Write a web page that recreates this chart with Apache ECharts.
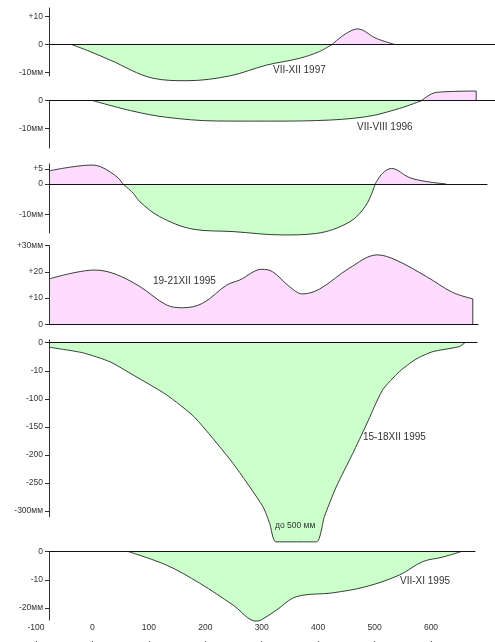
<!DOCTYPE html>
<html><head><meta charset="utf-8">
<script src="https://cdn.jsdelivr.net/npm/echarts@6/dist/echarts.min.js"></script>
<style>html,body{margin:0;padding:0;background:#fff}#c{width:495px;height:642px}</style>
</head><body><div id="c"></div>
<script>
// shared bottom axis
const xTicks = [-100, 0, 100, 200, 300, 400, 500, 600];

// Panel 1: VII-XII 1997 (mm)
const p1X = [-38, -4, 31, 107, 167, 243, 309, 367, 402, 425, 470, 503, 535];
const p1Y = [0, -2.6, -5.6, -12.1, -13, -11.3, -7.4, -5, -2.6, 0, 5.5, 2.1, 0];
const p1Ticks = [10, 0, -10];
const p1Labels = ['+10', '0', '-10мм'];

// Panel 2: VII-VIII 1996
const p2X = [1, 72, 131, 220, 308, 397, 485, 544, 583, 609, 680, 680];
const p2Y = [0, -3.8, -6.0, -7.35, -7.4, -7.2, -5.8, -2.8, 0, 3.0, 3.5, 0];
const p2Ticks = [0, -10];
const p2Labels = ['0', '-10мм'];

// Panel 3
const p3X = [-77, -1, 14, 31, 46, 54, 72, 84, 119, 178, 249, 337, 397, 456, 485, 501, 514, 530, 562, 592, 627];
const p3Y = [4.3, 6.2, 5.7, 4.0, 1.9, 0, -3.0, -5.8, -10.7, -14.8, -15.6, -16.7, -16.2, -12.4, -6.9, 0, 3.5, 5.1, 2.1, 0.8, 0];
const p3Ticks = [5, 0, -10];
const p3Labels = ['+5', '0', '-10мм'];

// Panel 4: 19-21XII 1995
const p4X = [-77, 4, 40, 84, 131, 160, 195, 238, 261, 300, 319, 349, 372, 402, 455, 505, 538, 592, 638, 674, 674];
const p4Y = [17.3, 20.7, 19.2, 14.4, 7.4, 6.3, 8.0, 15.0, 16.9, 21.0, 20.1, 14.4, 11.6, 13.4, 21.4, 26.5, 24.5, 18.2, 12.2, 9.7, 0];
const p4Ticks = [30, 20, 10, 0];
const p4Labels = ['+30мм', '+20', '+10', '0'];

// Panel 5: 15-18XII 1995 (non-linear axis, mm)
const p5X = [-77, -17, 31, 72, 131, 181, 249, 302, 314, 325, 397, 411, 432, 461, 485, 514, 544, 573, 603, 650, 660];
const p5Y = [-1.6, -3.6, -6.8, -23.5, -87, -133, -215, -292, -322, -355, -355, -310, -257, -198, -147, -72, -12.7, -5.9, -3.2, -1.4, 0];
const p5Ticks = [0, -10, -100, -150, -200, -250, -300];
const p5Labels = ['0', '-10', '-100', '-150', '-200', '-250', '-300мм'];

// Panel 6: VII-XI 1995
const p6X = [63, 131, 190, 249, 290, 299, 326, 361, 426, 485, 544, 585, 620, 654];
const p6Y = [0, -4.8, -11.2, -18.9, -24.6, -24.2, -20.7, -16.0, -14.6, -12.4, -8.3, -3.6, -2.0, 0];
const p6Ticks = [0, -10, -20];
const p6Labels = ['0', '-10', '-20мм'];

// non-linear scale of panel 5: mm -> axis position
function p5Pos(mm) {
  for (let i = 0; i < p5Ticks.length - 1; i++) {
    const a = p5Ticks[i], b = p5Ticks[i + 1];
    if (mm <= a && mm >= b) return -(i + (a - mm) / (a - b));
  }
  if (mm > 0) return mm / 10;
  return -(p5Ticks.length - 1 + (p5Ticks[p5Ticks.length - 1] - mm) / 50);
}

const FONT = 'Liberation Sans, Arial, sans-serif';
const GREEN = '#ccffcc', PINK = '#ffdcff', LINE = '#3a3a3a';
const PXU = 0.5643; // px per x unit
const LEFT = 49, XMIN = -77;

const panels = [
  {x: p1X, y: p1Y, ticks: p1Ticks, labels: p1Labels, top: 8, bottom: 76, zero: 44.3, unit: 2.8, rightPx: 495, smooth: 0.35},
  {x: p2X, y: p2Y, ticks: p2Ticks, labels: p2Labels, top: 100.7, bottom: 148, zero: 100.7, unit: 2.76, rightPx: 495, smooth: 0.35},
  {x: p3X, y: p3Y, ticks: p3Ticks, labels: p3Labels, top: 164, bottom: 233, zero: 184, unit: 3.05, rightPx: 487, smooth: 0.35},
  {x: p4X, y: p4Y, ticks: p4Ticks, labels: p4Labels, top: 245.5, bottom: 324.3, zero: 324.3, unit: 2.62, rightPx: 478, smooth: 0.35},
  {x: p5X, y: p5Y.map(p5Pos), ticks: p5Ticks.map(p5Pos), labels: p5Labels, top: 340, bottom: 516.7, zero: 342.7, unit: 28.05, rightPx: 477, smooth: 0.2},
  {x: p6X, y: p6Y, ticks: p6Ticks, labels: p6Labels, top: 551.5, bottom: 620, zero: 551.5, unit: 2.83, rightPx: 475, smooth: 0.35}
];

function segments(xs, ys) {
  const segs = [];
  let cur = [];
  for (let i = 0; i < xs.length; i++) {
    cur.push([xs[i], ys[i]]);
    if (ys[i] === 0 && cur.some(p => p[1] !== 0)) {
      segs.push(cur);
      cur = [[xs[i], ys[i]]];
    }
  }
  if (cur.some(p => p[1] !== 0)) segs.push(cur);
  return segs;
}

const grid = [], xAxis = [], yAxis = [], series = [];
panels.forEach((p, gi) => {
  const w = p.rightPx - LEFT;
  grid.push({left: LEFT, top: p.top, width: w, height: p.bottom - p.top});
  xAxis.push({
    type: 'value', gridIndex: gi, min: XMIN, max: XMIN + w / PXU, z: 5,
    axisLine: {onZero: true, lineStyle: {color: '#111', width: 1}},
    axisTick: {show: false}, axisLabel: {show: false}, splitLine: {show: false}
  });
  yAxis.push({
    type: 'value', gridIndex: gi,
    max: (p.zero - p.top) / p.unit, min: -(p.bottom - p.zero) / p.unit, z: 5,
    axisLine: {show: true, onZero: false, lineStyle: {color: '#333', width: 1}},
    axisTick: {show: true, length: 4, customValues: p.ticks, lineStyle: {color: '#333'}},
    axisLabel: {
      customValues: p.ticks, fontSize: 8.5, color: '#333', fontFamily: FONT, margin: 6,
      formatter: v => { const k = p.ticks.findIndex(t => Math.abs(t - v) < 1e-6); return k >= 0 ? p.labels[k] : ''; }
    },
    splitLine: {show: false}
  });
  segments(p.x, p.y).forEach(seg => {
    const pos = seg.some(q => q[1] > 0);
    let main = seg, edge = null;
    const n = seg.length;
    if (n > 2 && seg[n - 1][0] === seg[n - 2][0]) { main = seg.slice(0, n - 1); edge = seg.slice(n - 2); }
    series.push({
      type: 'line', xAxisIndex: gi, yAxisIndex: gi, data: main, smooth: p.smooth,
      symbol: 'none', clip: false, z: 2,
      lineStyle: {color: LINE, width: 1},
      areaStyle: {color: pos ? PINK : GREEN, opacity: 1, origin: 0}
    });
    if (edge) series.push({
      type: 'line', xAxisIndex: gi, yAxisIndex: gi, data: edge, symbol: 'none', clip: false, z: 3,
      lineStyle: {color: LINE, width: 1}
    });
  });
});

// bottom distance axis
const bi = panels.length;
grid.push({left: 36, top: 635, width: (650 + 100) * PXU, height: 6});
xAxis.push({
  type: 'value', gridIndex: bi, position: 'top', min: -100, max: 650,
  axisLine: {show: false},
  axisTick: {show: true, inside: true, length: 6, customValues: xTicks, lineStyle: {color: '#444'}},
  axisLabel: {customValues: xTicks, fontSize: 8.5, color: '#333', fontFamily: FONT, margin: 3},
  splitLine: {show: false}
});
yAxis.push({type: 'value', gridIndex: bi, show: false});

const txt = (t, x, y, fs) => ({type: 'text', left: x, top: y, z: 100, style: {text: t, fill: '#333', font: fs + 'px ' + FONT}});

const chart = echarts.init(document.getElementById('c'), null, {renderer: 'canvas'});
chart.setOption({
  animation: false,
  backgroundColor: '#fff',
  grid, xAxis, yAxis, series,
  graphic: [
    txt('VII-XII 1997', 273, 65, 10),
    txt('VII-VIII 1996', 357, 122, 10),
    txt('19-21XII 1995', 153, 276, 10),
    txt('15-18XII 1995', 363, 432, 10),
    txt('до 500 мм', 275, 521, 8.5),
    txt('VII-XI 1995', 400, 576, 10)
  ]
});
</script></body></html>
